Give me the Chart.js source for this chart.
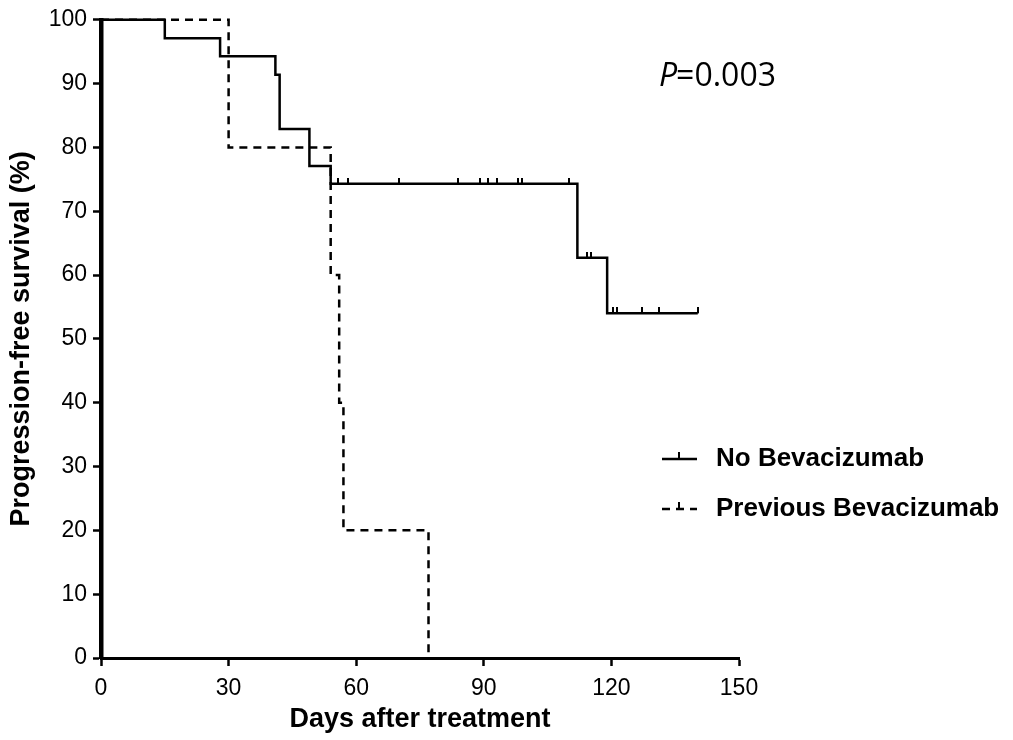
<!DOCTYPE html>
<html>
<head>
<meta charset="utf-8">
<script src="https://cdn.jsdelivr.net/npm/chart.js@4"></script>
<style>
  html, body { margin: 0; padding: 0; background: #fff; }
  #wrap { width: 1013px; height: 740px; }
</style>
</head>
<body>
<div id="wrap"><canvas id="c" width="1013" height="740"></canvas></div>
<script>
// ---- data ----
const seriesNames = ['No Bevacizumab', 'Previous Bevacizumab'];
const noBevTimes = [0, 15, 28, 41, 42, 49, 54, 112, 119, 140.3];
const noBevSurv  = [100, 97.1, 94.3, 91.4, 82.9, 77.1, 74.3, 62.7, 54.0, 54.0];
const noBevCensor = [55.8, 58.1, 70.1, 84.0, 89.1, 91.0, 93.1, 98.0, 98.9, 110.1,
                     114.2, 115.1, 120.3, 121.2, 127.1, 131.2, 140.3];
const prevBevTimes = [0, 30, 54, 56, 57, 77];
const prevBevSurv  = [100, 80, 60, 40, 20, 0];
const xTicks = [0, 30, 60, 90, 120, 150];
const yTicks = [0, 10, 20, 30, 40, 50, 60, 70, 80, 90, 100];
const xTitle = 'Days after treatment';
const yTitle = 'Progression-free survival (%)';
const pLabel = 'P';
const pValue = '=0.003';

// ---- helpers ----
function toPoints(ts, vs) { return ts.map((t, i) => ({ x: t, y: vs[i] })); }
function survAt(ts, vs, t) {
  let v = vs[0];
  for (let i = 0; i < ts.length; i++) if (ts[i] <= t) v = vs[i];
  return v;
}
const censorPts = noBevCensor.map(t => ({ x: t, y: survAt(noBevTimes, noBevSurv, t) }));

// censor tick glyph: a short vertical mark pointing upward from the point
const tick = document.createElement('canvas');
tick.width = 2; tick.height = 12;
(function () { const g = tick.getContext('2d'); g.fillStyle = '#000'; g.fillRect(0, 0, 2, 6); })();

const FONT = "'Liberation Sans', Arial, sans-serif";
const DASH = [8, 6];

const overlay = {
  id: 'overlay',
  afterDraw(chart) {
    const ctx = chart.ctx;
    ctx.save();
    // legend
    const items = [
      { name: seriesNames[0], dash: [], y: 459 },
      { name: seriesNames[1], dash: DASH, y: 509 }
    ];
    items.forEach(it => {
      ctx.strokeStyle = '#000';
      ctx.lineWidth = 2.5;
      ctx.setLineDash(it.dash);
      ctx.beginPath();
      ctx.moveTo(662, it.y); ctx.lineTo(697, it.y);
      ctx.stroke();
      ctx.setLineDash([]);
      ctx.fillStyle = '#000';
      ctx.fillRect(678, it.y - 7, 2, 7);
      ctx.font = "bold 26px " + FONT;
      ctx.textBaseline = 'middle';
      ctx.textAlign = 'left';
      ctx.fillText(it.name, 716, it.y);
    });
    // P value
    ctx.textBaseline = 'alphabetic';
    ctx.font = "italic 32px 'Open Sans', sans-serif";
    ctx.fillText(pLabel, 659, 86);
    const w = ctx.measureText(pLabel).width;
    ctx.font = "32px 'Open Sans', sans-serif";
    ctx.fillText(pValue, 659 + w - 1, 86);
    ctx.restore();
  }
};

new Chart(document.getElementById('c'), {
  type: 'line',
  data: {
    datasets: [
      {
        label: seriesNames[0],
        data: toPoints(noBevTimes, noBevSurv),
        stepped: 'before',
        borderColor: '#000',
        borderWidth: 2.5,
        pointRadius: 0,
        fill: false,
        clip: false
      },
      {
        label: seriesNames[1],
        data: toPoints(prevBevTimes, prevBevSurv),
        stepped: 'before',
        borderColor: '#000',
        borderWidth: 2.5,
        borderDash: DASH,
        pointRadius: 0,
        fill: false,
        clip: false
      },
      {
        label: seriesNames[0] + ' censored',
        data: censorPts,
        showLine: false,
        pointStyle: tick,
        pointRadius: 6,
        clip: false
      }
    ]
  },
  options: {
    responsive: false,
    animation: false,
    devicePixelRatio: 1,
    layout: { padding: { top: 19, right: 274, left: 0, bottom: 0 } },
    plugins: { legend: { display: false }, tooltip: { enabled: false } },
    scales: {
      x: {
        type: 'linear',
        min: 0, max: 150,
        afterFit: s => { s.height = 82; },
        afterBuildTicks: s => { s.ticks = xTicks.map(v => ({ value: v })); },
        border: { display: true, color: '#000', width: 3 },
        grid: { drawOnChartArea: false, drawTicks: true, tickLength: 8, tickWidth: 2.5, tickColor: '#000' },
        ticks: { color: '#000', padding: 9, font: { family: FONT, size: 23 }, maxRotation: 0 },
        title: { display: true, text: xTitle, color: '#000', font: { family: FONT, size: 27, weight: 'bold' }, padding: { top: 0, bottom: 4 } }
      },
      y: {
        type: 'linear',
        min: 0, max: 100,
        afterFit: s => { s.width = 101; },
        afterBuildTicks: s => { s.ticks = yTicks.map(v => ({ value: v })); },
        border: { display: true, color: '#000', width: 4.5 },
        grid: { drawOnChartArea: false, drawTicks: true, tickLength: 8, tickWidth: 2.5, tickColor: '#000' },
        ticks: { color: '#000', padding: 6, font: { family: FONT, size: 23 } },
        title: { display: true, text: yTitle, color: '#000', font: { family: FONT, size: 27, weight: 'bold' }, padding: { top: 5, bottom: 0 } }
      }
    }
  },
  plugins: [overlay]
});
</script>
</body>
</html>
